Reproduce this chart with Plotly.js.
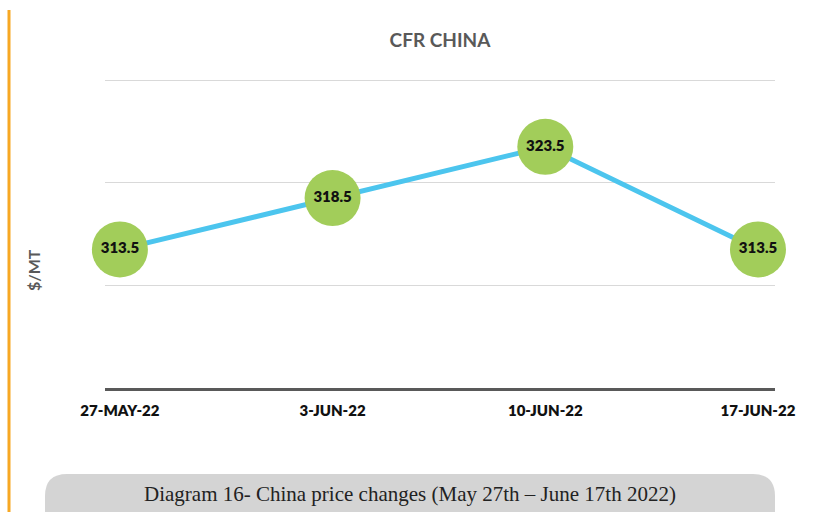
<!DOCTYPE html>
<html>
<head>
<meta charset="utf-8">
<script src="https://cdn.plot.ly/plotly-3.0.1.min.js"></script>
<style>
  html, body { margin: 0; padding: 0; background: #fff; }
  #chart { width: 819px; height: 512px; }
</style>
</head>
<body>
<div id="chart"></div>
<script>
// Data
const dates = ["27-MAY-22", "3-JUN-22", "10-JUN-22", "17-JUN-22"];
const prices = [313.5, 318.5, 323.5, 313.5];
const yTicks = [300, 310, 320, 330];
const chartTitle = "CFR CHINA";
const yTitle = "$/MT";
const caption = "Diagram 16- China price changes (May 27th \u2013 June 17th 2022)";

const trace = {
  x: dates,
  y: prices,
  type: "scatter",
  mode: "lines+markers+text",
  line: { color: "#4CC5EE", width: 5 },
  marker: { color: "#A2CD5A", size: 56, line: { width: 0 } },
  text: prices.map(v => v.toFixed(1)),
  textposition: "middle center",
  textfont: { family: "Lato, 'Open Sans', sans-serif", size: 15, color: "#111111", weight: 800 },
  cliponaxis: false,
  hoverinfo: "x+y"
};

const layout = {
  width: 819,
  height: 512,
  margin: { l: 105, r: 44, t: 78, b: 124 },
  paper_bgcolor: "#ffffff",
  plot_bgcolor: "#ffffff",
  showlegend: false,
  title: {
    text: chartTitle,
    font: { family: "Lato, 'Open Sans', sans-serif", size: 19, color: "#595959", weight: 700 },
    x: 0.5, xref: "paper", xanchor: "center",
    y: 1 - 40 / 512, yref: "container", yanchor: "middle"
  },
  xaxis: {
    type: "category",
    range: [-0.07, 3.08],
    showgrid: false,
    zeroline: false,
    showline: true,
    linecolor: "#595959",
    linewidth: 3,
    ticks: "",
    tickfont: { family: "Lato, 'Open Sans', sans-serif", size: 15, color: "#111111", weight: 800 },
    ticklabelstandoff: 7
  },
  yaxis: {
    range: [300, 330.2],
    tickvals: yTicks,
    showticklabels: false,
    showgrid: true,
    gridcolor: "#d9d9d9",
    gridwidth: 1,
    zeroline: false,
    showline: false,
    ticks: ""
  },
  shapes: [
    {
      type: "line",
      xref: "paper", yref: "paper",
      xsizemode: "pixel", ysizemode: "pixel",
      xanchor: 0, yanchor: 0,
      x0: -96, x1: -96, y0: 378, y1: -130,
      line: { color: "#F7A823", width: 3 }
    },
    {
      type: "path",
      xref: "paper", yref: "paper",
      xsizemode: "pixel", ysizemode: "pixel",
      xanchor: 0, yanchor: 0,
      path: "M -38,-86 L 648,-86 Q 670,-86 670,-108 L 670,-140 L -60,-140 L -60,-108 Q -60,-86 -38,-86 Z",
      fillcolor: "#D4D4D4",
      line: { width: 0 },
      layer: "below"
    }
  ],
  annotations: [
    {
      text: yTitle,
      xref: "paper", yref: "paper",
      xsizemode: "pixel",
      x: (33 - 105) / 670, y: (388 - 270) / 310,
      xanchor: "center", yanchor: "middle",
      textangle: -90,
      showarrow: false,
      font: { family: "Lato, 'Open Sans', sans-serif", size: 16, color: "#595959", weight: 700 }
    },
    {
      text: caption,
      xref: "paper", yref: "paper",
      x: (410 - 105) / 670, y: (388 - 494) / 310,
      xanchor: "center", yanchor: "middle",
      showarrow: false,
      font: { family: "'Liberation Serif', 'Times New Roman', serif", size: 21, color: "#222222" }
    }
  ]
};

Plotly.newPlot("chart", [trace], layout, { staticPlot: true, displayModeBar: false });
</script>
</body>
</html>
